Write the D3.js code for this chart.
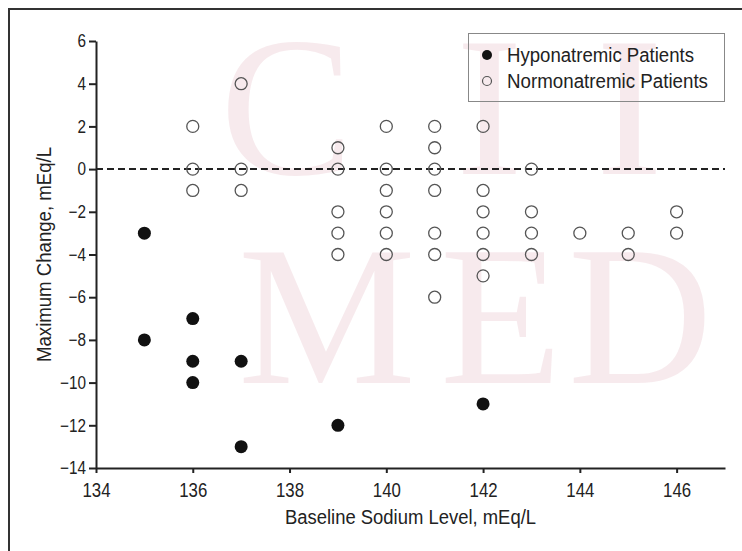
<!DOCTYPE html>
<html>
<head>
	<meta charset="utf-8" />
	<title>Maximum change vs baseline sodium</title>
	<script type="text/javascript" src="https://cdn.jsdelivr.net/npm/d3@7/dist/d3.min.js" charset="utf-8"></script>
	<style>
		body { margin: 0; background: #fff; }
		svg text.lbl { font-family: "Liberation Sans", Arial, sans-serif; fill: #222; }
		svg .tick text { font-family: "Liberation Sans", Arial, sans-serif; fill: #222; }
		svg text.wm { font-family: "Liberation Serif", "Times New Roman", serif; fill: #b03050; fill-opacity: 0.1; }
	</style>
</head>
<body>

<div id="chart">
	<svg></svg>
</div>

<script type="text/javascript">
/* data: [baseline sodium, maximum change] */
var hypo_points = [
	[135, -3], [135, -8],
	[136, -7], [136, -9], [136, -10],
	[137, -9], [137, -13],
	[139, -12],
	[142, -11]
];

var normo_points = [
	[136, 2], [136, 0], [136, -1],
	[137, 4], [137, 0], [137, -1],
	[139, 1], [139, 0], [139, -2], [139, -3], [139, -4],
	[140, 2], [140, 0], [140, -1], [140, -2], [140, -3], [140, -4],
	[141, 2], [141, 1], [141, 0], [141, -1], [141, -3], [141, -4], [141, -6],
	[142, 2], [142, -1], [142, -2], [142, -3], [142, -4], [142, -5],
	[143, 0], [143, -2], [143, -3], [143, -4],
	[144, -3],
	[145, -3], [145, -4],
	[146, -2], [146, -3]
];

var x_ticks = [134, 136, 138, 140, 142, 144, 146];
var y_ticks = [-14, -12, -10, -8, -6, -4, -2, 0, 2, 4, 6];
var legend_labels = ["Hyponatremic Patients", "Normonatremic Patients"];

var width  = 742,
    height = 551;

// squeeze a text to look like the condensed face of the original
function condense(sel, k) {
	sel.each(function() {
		var w = this.getComputedTextLength();
		d3.select(this).attr("textLength", w * k).attr("lengthAdjust", "spacingAndGlyphs");
	});
}

var svg = d3.select('#chart > svg')
	.attr("width",  width)
	.attr("height", height);

// faint watermark letters behind the plot
var wm = svg.append("g");
[["C", 220, 174, 200], ["I", 456, 174, 200], ["I", 596, 174, 200],
 ["M", 238, 383, 200], ["E", 440, 383, 200], ["D", 568, 383, 200]]
	.forEach(function(l) {
		wm.append("text").attr("class", "wm")
			.attr("x", l[1]).attr("y", l[2])
			.style("font-size", l[3] + "px")
			.text(l[0]);
	});

// outer frame (top and left edges)
svg.append("path")
	.attr("d", "M9," + height + "V9H" + width)
	.attr("fill", "none")
	.attr("stroke", "#333")
	.attr("stroke-width", 2);

var x = d3.scaleLinear().domain([134, 147]).range([96, 725]);
var y = d3.scaleLinear().domain([-14, 6]).range([468, 41]);

var fmt = function(d) { return d < 0 ? "\u2212" + Math.abs(d) : d; };

var xAxis = svg.append("g")
	.attr("transform", "translate(0," + y(-14) + ")")
	.call(d3.axisBottom(x).tickValues(x_ticks).tickSize(5).tickPadding(9).tickSizeOuter(0));
xAxis.selectAll("text").style("font-size", "21px").call(condense, 0.8);

var yAxis = svg.append("g")
	.attr("transform", "translate(" + x(134) + ",0)")
	.call(d3.axisLeft(y).tickValues(y_ticks).tickSize(7).tickPadding(3).tickSizeOuter(0).tickFormat(fmt));
yAxis.selectAll("text").style("font-size", "18px").call(condense, 0.85);

svg.selectAll(".domain, .tick line")
	.attr("stroke", "#222")
	.attr("stroke-width", 2);

// zero reference line
svg.append("line")
	.attr("x1", x(134)).attr("x2", x(147))
	.attr("y1", y(0)).attr("y2", y(0))
	.attr("stroke", "#222")
	.attr("stroke-width", 2)
	.attr("stroke-dasharray", "7,4");

// axis titles
svg.append("text")
	.attr("class", "lbl")
	.attr("x", (x(134) + x(147)) / 2)
	.attr("y", 524)
	.attr("text-anchor", "middle")
	.style("font-size", "20px")
	.attr("textLength", 251)
	.attr("lengthAdjust", "spacingAndGlyphs")
	.text("Baseline Sodium Level, mEq/L");

svg.append("text")
	.attr("class", "lbl")
	.attr("transform", "translate(51," + (y(-14) + y(6)) / 2 + ") rotate(-90)")
	.attr("text-anchor", "middle")
	.style("font-size", "20px")
	.attr("textLength", 215)
	.attr("lengthAdjust", "spacingAndGlyphs")
	.text("Maximum Change, mEq/L");

// points
svg.append("g").selectAll("circle")
	.data(normo_points)
	.enter().append("circle")
		.attr("cx", function(d) { return x(d[0]); })
		.attr("cy", function(d) { return y(d[1]); })
		.attr("r", 6)
		.attr("fill", "none")
		.attr("stroke", "#555")
		.attr("stroke-width", 1.3);

svg.append("g").selectAll("circle")
	.data(hypo_points)
	.enter().append("circle")
		.attr("cx", function(d) { return x(d[0]); })
		.attr("cy", function(d) { return y(d[1]); })
		.attr("r", 6.5)
		.attr("fill", "#111");

// legend (no fill: the watermark shows through in the original)
var legend = svg.append("g");
legend.append("rect")
	.attr("x", 468.5).attr("y", 33.5)
	.attr("width", 256).attr("height", 68)
	.attr("fill", "none")
	.attr("stroke", "#888")
	.attr("stroke-width", 1);

var legend_widths = [187, 201];
legend_labels.forEach(function(lbl, i) {
	var cy = 55 + i * 26;
	if (i === 0) {
		legend.append("circle").attr("cx", 487).attr("cy", cy).attr("r", 5).attr("fill", "#111");
	} else {
		legend.append("circle").attr("cx", 487).attr("cy", cy).attr("r", 4.5).attr("fill", "none")
			.attr("stroke", "#555").attr("stroke-width", 1.2);
	}
	legend.append("text")
		.attr("class", "lbl")
		.attr("x", 507)
		.attr("y", cy + 7)
		.style("font-size", "20px")
		.attr("textLength", legend_widths[i])
		.attr("lengthAdjust", "spacingAndGlyphs")
		.text(lbl);
});
</script>
</body>
</html>
